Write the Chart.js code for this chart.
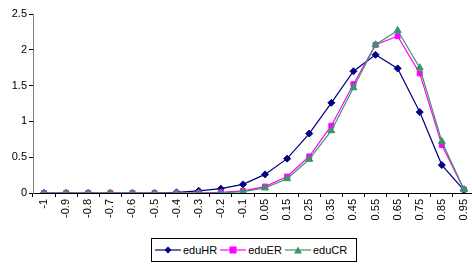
<!DOCTYPE html>
<html><head><meta charset="utf-8">
<script src="https://cdn.jsdelivr.net/npm/chart.js@4/dist/chart.umd.min.js"></script>
<style>
html,body{margin:0;padding:0;background:#fff;overflow:hidden;width:472px;height:266px;}
#wrap{position:absolute;left:0;top:0;width:480px;height:266px;}
#legend{position:absolute;left:151px;top:238px;width:204px;height:22px;border:1px solid #000;background:#fff;
font-family:"Liberation Sans",Arial,sans-serif;font-size:11px;color:#000;display:flex;align-items:center;white-space:nowrap;}
#legend .it{display:flex;align-items:center;margin-left:3px;}
#legend svg{display:block;margin-right:2px;}
</style></head><body>
<div id="wrap"><canvas id="c" width="480" height="266"></canvas></div>
<div id="legend"></div>
<script>
const categories = ["-1","-0.9","-0.8","-0.7","-0.6","-0.5","-0.4","-0.3","-0.2","-0.1","0.05","0.15","0.25","0.35","0.45","0.55","0.65","0.75","0.85","0.95"];
const eduHR = [0,0,0,0,0,0,0.01,0.03,0.06,0.12,0.26,0.48,0.83,1.26,1.70,1.93,1.74,1.13,0.39,0.04];
const eduER = [0,0,0,0,0,0,0,0,0.01,0.03,0.09,0.23,0.51,0.94,1.52,2.07,2.19,1.67,0.67,0.05];
const eduCR = [0,0,0,0,0,0,0,0,0,0.02,0.07,0.20,0.47,0.87,1.47,2.07,2.27,1.75,0.72,0.05];
const yTicks = [0,0.5,1,1.5,2,2.5];
const seriesNames = ["eduHR","eduER","eduCR"];
const colors = ["#000080","#FF00FF","#339966"];
const styles = ["rectRot","rect","triangle"];
const radii = [3.5,3.5,4];
</script>
<script>
const font = {family:'"Liberation Sans", Arial, sans-serif', size:11};
const allData=[eduHR,eduER,eduCR];
const chart = new Chart(document.getElementById('c'),{
  type:'line',
  data:{labels:categories,datasets:allData.map((d,i)=>({
    label:seriesNames[i],data:d,borderColor:colors[i],backgroundColor:colors[i],
    borderWidth:1.2,pointStyle:styles[i],pointRadius:radii[i],pointBorderWidth:1,
    pointBorderColor:colors[i],pointBackgroundColor:colors[i],tension:0,order:3-i
  }))},
  options:{responsive:false,animation:false,
    layout:{padding:{top:14,right:4,left:0,bottom:0}},
    plugins:{legend:{display:false},tooltip:{enabled:false}},
    scales:{
      x:{type:'category',offset:true,
        grid:{display:true,drawOnChartArea:false,drawTicks:true,tickLength:4,color:'#000',offset:true},
        border:{display:true,color:'#000',width:1},
        ticks:{font:font,color:'#000',maxRotation:90,minRotation:90,autoSkip:false,padding:2},
        afterFit(s){s.height=73;}
      },
      y:{min:0,max:2.5,afterBuildTicks(s){s.ticks=yTicks.map(v=>({value:v}));},
        grid:{display:true,drawOnChartArea:false,drawTicks:true,tickLength:4,color:'#000'},
        border:{display:true,color:'#808080',width:1},
        ticks:{font:font,color:'#000',padding:2,callback:v=>String(v)},
        afterFit(s){s.width=33;}
      }
    }
  }
});
const lg=document.getElementById('legend');
seriesNames.forEach((n,i)=>{
  const it=document.createElement('div');it.className='it';
  let mk='';
  if(styles[i]==='rectRot') mk=`<polygon points="13,0.5 16.5,4 13,7.5 9.5,4" fill="${colors[i]}"/>`;
  else if(styles[i]==='rect') mk=`<rect x="9.5" y="0.5" width="7" height="7" fill="${colors[i]}"/>`;
  else mk=`<polygon points="13,0.5 17,7.5 9,7.5" fill="${colors[i]}"/>`;
  it.innerHTML=`<svg width="26" height="8"><line x1="0" y1="4" x2="26" y2="4" stroke="${colors[i]}" stroke-width="1.2"/>${mk}</svg><span>${n}</span>`;
  lg.appendChild(it);
});
</script>
</body></html>
